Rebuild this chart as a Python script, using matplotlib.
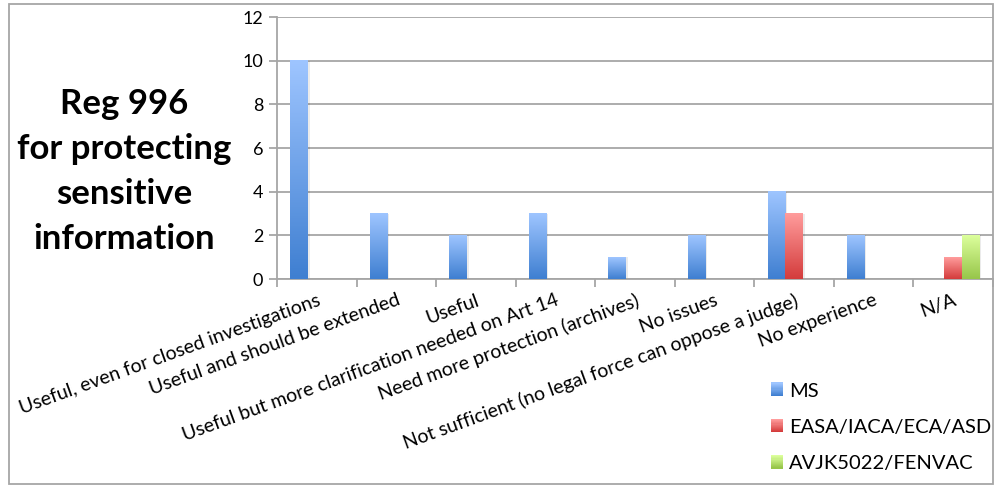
import numpy as np
import matplotlib.pyplot as plt
from matplotlib.colors import LinearSegmentedColormap
from matplotlib.patches import Rectangle
from matplotlib.legend_handler import HandlerBase

categories = ["Useful, even for closed investigations",
              "Useful and should be extended",
              "Useful",
              "Useful but more clarification needed on Art 14",
              "Need more protection (archives)",
              "No issues",
              "Not sufficient (no legal force can oppose a judge)",
              "No experience",
              "N/A"]
ms = [10, 3, 2, 3, 1, 2, 4, 2, 0]
easa = [0, 0, 0, 0, 0, 0, 3, 0, 1]
avjk = [0, 0, 0, 0, 0, 0, 0, 0, 2]
series_names = ["MS", "EASA/IACA/ECA/ASD", "AVJK5022/FENVAC"]
yticks = [0, 2, 4, 6, 8, 10, 12]

# (top colour, bottom colour) for each series
grads = [("#9ec5ff", "#3f7fd1"), ("#ff9c9c", "#d43c3c"), ("#dcff9c", "#97c64a")]
cmaps = [LinearSegmentedColormap.from_list("g%d" % k, [g[1], g[0]]) for k, g in enumerate(grads)]


class GradHandler(HandlerBase):
    def create_artists(self, legend, orig_handle, xdescent, ydescent, width, height, fontsize, trans):
        cm = cmaps[orig_handle.get_gid()]
        n = 12
        out = []
        for i in range(n):
            out.append(Rectangle((-xdescent, -ydescent + height * i / n), width, height / n + 0.3,
                                 facecolor=cm(i / (n - 1)), edgecolor="none", transform=trans))
        return out


plt.rcParams['font.family'] = ['Lato', 'DejaVu Sans']

fig = plt.figure(figsize=(9.94, 4.86), dpi=100)
ax = fig.add_axes([0.2787, 0.4259, 0.7203, 0.539])

x = np.arange(len(categories))
w = 1 / 4.5
for k, vals in enumerate([ms, easa, avjk]):
    bars = ax.bar(x + (k - 1) * w, vals, w, facecolor="none", edgecolor="none", zorder=3)
    for b in bars:
        h = b.get_height()
        if h <= 0:
            continue
        bx = b.get_x()
        # soft shadow
        ax.add_patch(Rectangle((bx + 0.02, 0), w, h, facecolor="#000000", alpha=0.08,
                               edgecolor="none", zorder=2))
        ax.imshow(np.linspace(0, 1, 100).reshape(-1, 1), cmap=cmaps[k], origin="lower",
                  extent=[bx, bx + w, 0, h], aspect="auto", zorder=3)

ax.set_xlim(-0.5, len(categories) - 0.5)
ax.set_ylim(0, 12)
ax.set_yticks(yticks)
ax.set_yticklabels([str(v) for v in yticks], fontsize=13)
ax.yaxis.grid(True, color="#a6a6a6", linewidth=1.3)
ax.set_axisbelow(True)

ax.set_xticks(x)
ax.set_xticklabels(categories, rotation=20, ha="right", va="top", rotation_mode="anchor",
                   fontsize=14)
ax.set_xticks(np.arange(len(categories) + 1) - 0.5, minor=True)
ax.tick_params(axis="x", which="major", length=0, pad=9)
ax.tick_params(axis="x", which="minor", length=6, color="#a6a6a6", width=1.3)
ax.tick_params(axis="y", length=6, color="#a6a6a6", width=1.3, pad=4)

for s in ["top", "right"]:
    ax.spines[s].set_visible(False)
for s in ["left", "bottom"]:
    ax.spines[s].set_color("#a6a6a6")
    ax.spines[s].set_linewidth(1.3)

fig.text(0.125, 0.648, "Reg 996\nfor protecting\nsensitive\ninformation", ha="center", va="center",
         fontsize=25, fontweight="bold", linespacing=1.5)

handles = []
for k in range(3):
    r = Rectangle((0, 0), 1, 1)
    r.set_gid(k)
    handles.append(r)
fig.legend(handles, series_names, loc="upper left", bbox_to_anchor=(0.757, 0.25),
           handler_map={Rectangle: GradHandler()},
           frameon=False, fontsize=14.5, handlelength=0.6, handleheight=0.65,
           handletextpad=0.3, labelspacing=0.95)

fig.add_artist(Rectangle((0.0095, 0.004), 0.989, 0.987, transform=fig.transFigure,
                         fill=False, edgecolor="#a6a6a6", linewidth=1.3))

plt.savefig("out.png", dpi=100)
